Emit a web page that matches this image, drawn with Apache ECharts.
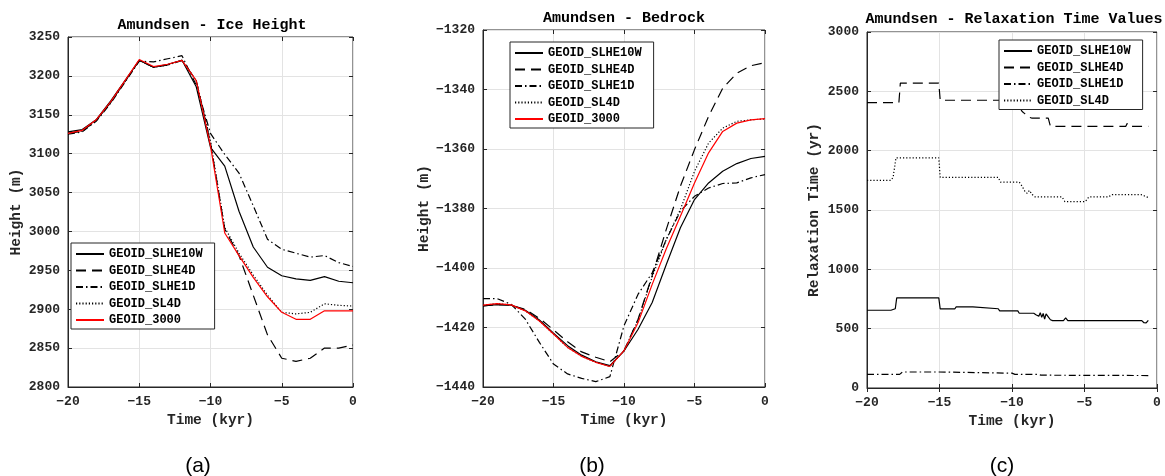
<!DOCTYPE html>
<html>
<head>
<meta charset="utf-8">
<script src="https://cdn.jsdelivr.net/npm/echarts@6/dist/echarts.min.js"></script>
<style>
html, body { margin: 0; padding: 0; background: #fff; }
#chart { width: 1165px; height: 476px; }
</style>
</head>
<body>
<div id="chart"></div>
<script>
// time axis for panels (a) and (b), kyr
var kyr = [-20, -19, -18, -17, -16, -15, -14, -13, -12, -11, -10, -9, -8, -7, -6, -5, -4, -3, -2, -1, 0];

// (a) ice height, m
var ice10W  = [3128, 3131, 3144, 3168, 3194, 3220, 3211, 3215, 3220, 3186, 3108, 3084, 3026, 2980, 2954, 2943, 2939, 2937, 2942, 2936, 2934];
var ice4D   = [3126, 3129, 3143, 3166, 3193, 3220, 3211, 3214, 3220, 3194, 3114, 3003, 2969, 2918, 2867, 2837, 2833, 2837, 2850, 2850, 2854];
var ice1D   = [3125, 3128, 3142, 3165, 3192, 3219, 3218, 3222, 3226, 3188, 3126, 3099, 3075, 3033, 2990, 2977, 2972, 2967, 2969, 2960, 2955];
var iceSL4D = [3126, 3129, 3143, 3166, 3193, 3220, 3211, 3214, 3220, 3194, 3116, 3005, 2972, 2944, 2918, 2896, 2894, 2896, 2907, 2905, 2904];
var ice3000 = [3126, 3130, 3144, 3167, 3194, 3221, 3212, 3215, 3220, 3194, 3110, 2998, 2969, 2941, 2916, 2896, 2887, 2887, 2898, 2898, 2898];

// (b) bedrock height, m
var bed10W  = [-1412.7, -1412.3, -1412.5, -1414.2, -1417.5, -1421.9, -1426.1, -1429.3, -1431.5, -1432.8, -1427.9, -1420.6, -1411.6, -1398.8, -1386.5, -1377.0, -1371.4, -1367.5, -1364.9, -1363.2, -1362.5];
var bed4D   = [-1412.7, -1412.3, -1412.5, -1413.9, -1416.9, -1420.8, -1424.8, -1428.2, -1430.0, -1431.5, -1427.8, -1417.2, -1402.5, -1387.0, -1372.5, -1360.2, -1349.0, -1339.6, -1334.5, -1332.0, -1331.0];
var bed1D   = [-1410.3, -1410.3, -1412.2, -1417.2, -1425.0, -1432.3, -1435.6, -1437.1, -1438.2, -1436.5, -1419.4, -1408.8, -1401.6, -1390.4, -1380.9, -1375.9, -1373.1, -1371.6, -1371.4, -1369.7, -1368.6];
var bedSL4D = [-1412.5, -1412.0, -1412.4, -1414.4, -1417.8, -1422.2, -1426.7, -1429.7, -1431.7, -1433.1, -1427.8, -1417.5, -1403.0, -1390.4, -1380.3, -1367.5, -1358.0, -1353.0, -1350.7, -1350.2, -1349.9];
var bed3000 = [-1412.5, -1412.0, -1412.4, -1414.4, -1417.8, -1422.2, -1426.7, -1429.7, -1431.7, -1433.1, -1427.8, -1418.3, -1405.5, -1393.5, -1382.6, -1371.4, -1361.3, -1354.1, -1351.3, -1350.2, -1349.8];

// (c) relaxation time, [kyr, yr] breakpoints
var relax10W = [[-20, 655], [-18.35, 655], [-18.25, 668], [-18.05, 668], [-17.95, 760], [-15.05, 760], [-14.95, 666], [-13.95, 666], [-13.85, 684], [-12.7, 684], [-12.6, 668], [-10.95, 668], [-10.85, 650], [-9.6, 650], [-9.5, 630], [-8.5, 630], [-8.35, 618], [-8.25, 632], [-8.15, 605], [-8.05, 635], [-7.95, 595], [-7.85, 628], [-7.75, 580], [-7.65, 625], [-7.5, 600], [-7.35, 575], [-7.2, 568], [-6.45, 568], [-6.3, 590], [-6.15, 568], [-1.05, 568], [-0.9, 550], [-0.75, 548], [-0.6, 570]];
var relax4D = [[-20, 2405], [-17.8, 2405], [-17.7, 2570], [-15.05, 2570], [-14.95, 2425], [-9.5, 2425], [-9.4, 2350], [-9.3, 2330], [-9.2, 2345], [-9.1, 2310], [-9.0, 2300], [-8.9, 2285], [-8.8, 2295], [-8.65, 2275], [-7.5, 2275], [-7.35, 2205], [-2.15, 2205], [-2.05, 2230], [-1.9, 2205], [-0.6, 2205]];
var relax1D = [[-20, 115], [-17.75, 115], [-17.55, 135], [-15.05, 135], [-14.95, 125], [-10.0, 125], [-9.8, 115], [-8.2, 115], [-8.0, 108], [-0.6, 105]];
var relaxSL4D = [[-20, 1750], [-18.35, 1750], [-18.2, 1775], [-18.0, 1940], [-15.05, 1940], [-14.95, 1775], [-10.95, 1775], [-10.8, 1735], [-9.5, 1735], [-9.3, 1700], [-9.1, 1655], [-8.95, 1640], [-8.8, 1665], [-8.6, 1630], [-8.4, 1610], [-6.55, 1610], [-6.35, 1570], [-4.95, 1570], [-4.7, 1610], [-3.35, 1610], [-3.1, 1630], [-1.1, 1630], [-0.9, 1620], [-0.6, 1605]];

var names = ['GEOID_SLHE10W', 'GEOID_SLHE4D', 'GEOID_SLHE1D', 'GEOID_SL4D', 'GEOID_3000'];
var panelTitles = ['Amundsen - Ice Height', 'Amundsen - Bedrock', 'Amundsen - Relaxation Time Values'];
var yNames = ['Height (m)', 'Height (m)', 'Relaxation Time (yr)'];

var mono = "'Liberation Mono', 'DejaVu Sans Mono', monospace";
var axisCol = '#262626';

var styles = {
    'GEOID_SLHE10W': { color: '#000', type: 'solid' },
    'GEOID_SLHE4D': { color: '#000', type: [10, 6] },
    'GEOID_SLHE1D': { color: '#000', type: [7, 3, 1.5, 3] },
    'GEOID_SL4D': { color: '#000', type: [1.2, 2] },
    'GEOID_3000': { color: '#ff0000', type: 'solid' }
};

function pairs(vals) {
    return kyr.map(function (t, i) { return [t, vals[i]]; });
}

function minus(v) {
    return String(v).replace('-', '\u2212');
}

var chart = echarts.init(document.getElementById('chart'));

var grids = [
    { left: 68, right: 812, top: 37, bottom: 89 },
    { left: 483, right: 400, top: 30, bottom: 89 },
    { left: 867, right: 8, top: 32, bottom: 88 }
];
var yRanges = [[2800, 3250, 50], [-1440, -1320, 20], [0, 3000, 500]];
var yGaps = [44, 51, 45];

var xAxes = [], yAxes = [];
grids.forEach(function (g, i) {
    g.show = true;
    g.borderColor = axisCol;
    g.borderWidth = 1;
    g.backgroundColor = '#fff';
    xAxes.push({
        type: 'value', gridIndex: i, min: -20, max: 0, interval: 5,
        name: 'Time (kyr)', nameLocation: 'middle', nameGap: 26,
        nameTextStyle: { fontFamily: mono, fontWeight: 'bold', fontSize: 14.5, color: axisCol },
        axisLine: { show: true, onZero: false, lineStyle: { color: axisCol } },
        axisTick: { inside: true, length: 4, lineStyle: { color: axisCol } },
        axisLabel: { fontFamily: mono, fontWeight: 'bold', fontSize: 13, color: axisCol, margin: 8, formatter: minus },
        splitLine: { show: true, lineStyle: { color: '#e3e3e3' } }
    });
    xAxes.push({
        type: 'value', gridIndex: i, position: 'top', min: -20, max: 0, interval: 5,
        axisLine: { show: false },
        axisTick: { inside: true, length: 4, lineStyle: { color: axisCol } },
        axisLabel: { show: false }, splitLine: { show: false }
    });
    var r = yRanges[i];
    yAxes.push({
        type: 'value', gridIndex: i, min: r[0], max: r[1], interval: r[2],
        name: yNames[i], nameLocation: 'middle', nameGap: yGaps[i],
        nameTextStyle: { fontFamily: mono, fontWeight: 'bold', fontSize: 14.5, color: axisCol },
        axisLine: { show: true, onZero: false, lineStyle: { color: axisCol } },
        axisTick: { show: true, inside: true, length: 4, lineStyle: { color: axisCol } },
        axisLabel: { fontFamily: mono, fontWeight: 'bold', fontSize: 13, color: axisCol, margin: 8, formatter: minus },
        splitLine: { show: true, lineStyle: { color: '#e3e3e3' } }
    });
    yAxes.push({
        type: 'value', gridIndex: i, position: 'right', min: r[0], max: r[1], interval: r[2],
        axisLine: { show: false },
        axisTick: { show: true, inside: true, length: 4, lineStyle: { color: axisCol } },
        axisLabel: { show: false }, splitLine: { show: false }
    });
});

function line(name, panel, data) {
    var s = styles[name];
    return {
        name: name, type: 'line', xAxisIndex: panel * 2, yAxisIndex: panel * 2,
        data: data, symbol: 'none', animation: false,
        lineStyle: { color: s.color, width: 1.2, type: s.type },
        itemStyle: { color: s.color }
    };
}

var series = [
    line(names[0], 0, pairs(ice10W)),
    line(names[1], 0, pairs(ice4D)),
    line(names[2], 0, pairs(ice1D)),
    line(names[3], 0, pairs(iceSL4D)),
    line(names[4], 0, pairs(ice3000)),
    line(names[0], 1, pairs(bed10W)),
    line(names[1], 1, pairs(bed4D)),
    line(names[2], 1, pairs(bed1D)),
    line(names[3], 1, pairs(bedSL4D)),
    line(names[4], 1, pairs(bed3000)),
    line(names[0], 2, relax10W),
    line(names[1], 2, relax4D),
    line(names[2], 2, relax1D),
    line(names[3], 2, relaxSL4D)
];

function legendAt(left, top, data) {
    return {
        left: left, top: top, orient: 'vertical', data: data,
        itemWidth: 28, itemHeight: 12, itemGap: 4.5,
        padding: [5, 12, 3, 4],
        borderColor: axisCol, borderWidth: 1, backgroundColor: '#fff',
        // line only, no marker in the key
        itemStyle: { color: 'transparent', borderColor: 'transparent', borderWidth: 0, opacity: 0 },
        textStyle: { fontFamily: mono, fontWeight: 'bold', fontSize: 12, color: '#000' },
        selectedMode: false
    };
}

var titleX = [212, 624, 1014], titleY = [25, 18, 19];
var tagX = [198, 592, 1002], tags = ['(a)', '(b)', '(c)'];
var graphics = [];
panelTitles.forEach(function (t, i) {
    graphics.push({
        type: 'text', x: titleX[i], y: titleY[i], z: 10,
        style: { text: t, textAlign: 'center', textVerticalAlign: 'middle', font: 'bold 15px ' + mono, fill: '#000' }
    });
    graphics.push({
        type: 'text', x: tagX[i], y: 466,
        style: { text: tags[i], textAlign: 'center', textVerticalAlign: 'middle', font: '21px "Liberation Sans", Arial, sans-serif', fill: '#000' }
    });
});

option = {
    animation: false,
    backgroundColor: '#fff',
    grid: grids,
    xAxis: xAxes,
    yAxis: yAxes,
    legend: [
        legendAt(71, 243, names),
        legendAt(510, 42, names),
        legendAt(999, 40, names.slice(0, 4))
    ],
    graphic: graphics,
    series: series
};

chart.setOption(option);
</script>
</body>
</html>
